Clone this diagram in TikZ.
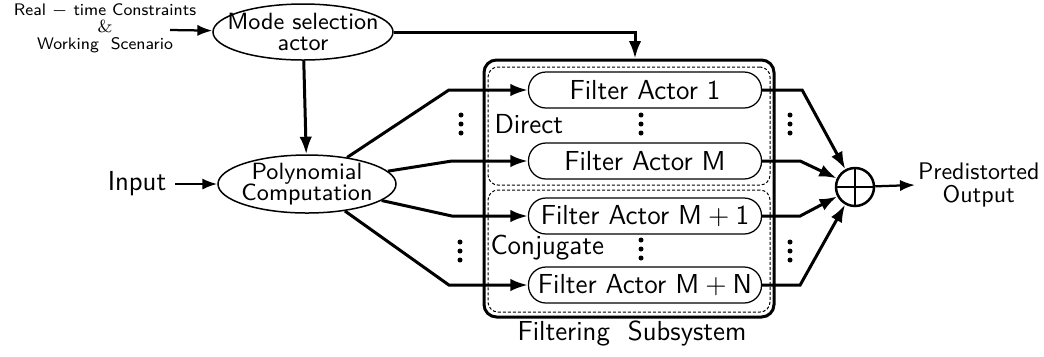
\documentclass[tikz,border=0pt]{standalone}
\usepackage{tikz}
\usepackage{xcolor}
\usepackage{amsmath}
\usetikzlibrary{arrows.meta,shapes.geometric}

% a column of three dots
\newcommand{\dotstack}[2]{\foreach \dy in {-9,0,9} {\fill (#1,#2+\dy) circle (1pt);}}
% close line spacing inside the ellipses
\newcommand{\tightfont}{\fontsize{9.4}{8.2}\selectfont\sffamily\lineskiplimit=-20pt\relax}

\begin{document}
\begin{tikzpicture}[x=0.4pt, y=-0.4pt,
    flow/.style={-{Latex[length=7pt,width=5pt]}, line width=1.2pt},
    thinflow/.style={-{Latex[length=6pt,width=4.5pt]}, line width=0.9pt},
    actor/.style={ellipse, draw, line width=0.6pt, inner sep=0pt},
    ellfont/.style={font=\tightfont, align=center, inner sep=0pt},
    lbl/.style={font=\fontsize{11}{13}\selectfont\sffamily},
    filter/.style={draw, line width=0.5pt, rounded corners=7pt, minimum width=93.2pt, minimum height=14.4pt, inner sep=0pt, font=\fontsize{11}{13}\selectfont\sffamily},
    group/.style={draw, line width=0.4pt, dash pattern=on 1.2pt off 0.8pt, rounded corners=4pt, minimum width=112.8pt}]

    \useasboundingbox (0,0) rectangle (1044,356);

    % Inputs
    \node[font=\fontsize{6.7}{6.8}\selectfont\sffamily, align=center] (rt) at (105,28) {Real $-$ time Constraints\\$\&$\\Working\ \ Scenario};
    \coordinate (rtout) at (170,30);
    \node[lbl] (input) at (137,184) {Input};

    % Actors
    \node[actor, minimum width=72pt, minimum height=22.4pt, label={[ellfont]center:Mode selection\\actor}] (mode) at (303,32) {};
    \node[actor, minimum width=71.2pt, minimum height=23.2pt, label={[ellfont]center:Polynomial\\Computation}] (poly) at (307,184) {};

    % Filtering subsystem
    \node[draw, line width=1.2pt, rounded corners=5pt, minimum width=116pt, minimum height=102.8pt] (fs) at (629,188.5) {};
    \node[group, minimum height=47.2pt] (direct) at (629,126) {};
    \node[group, minimum height=48.8pt] (conj) at (629,251) {};
    \node[lbl, anchor=west, inner sep=0pt] (directlbl) at (494,124) {Direct};
    \node[lbl, anchor=west, inner sep=0pt] (conjlbl) at (490,248) {Conjugate};
    \node[lbl] (fslbl) at (632,333) {Filtering\ \ Subsystem};

    \node[filter] (fa1) at (645,90) {Filter Actor 1};
    \node[filter] (fam) at (645,161) {Filter Actor $\mathsf{M}$};
    \node[filter] (fam1) at (645,216) {Filter Actor $\mathsf{M}+\mathsf{1}$};
    \node[filter] (famn) at (645,285) {Filter Actor $\mathsf{M}+\mathsf{N}$};

    \dotstack{461}{124}
    \dotstack{641}{124}
    \dotstack{790}{124}
    \dotstack{460}{251}
    \dotstack{641}{249}
    \dotstack{790}{251}

    % Summation and output
    \node[circle, draw, line width=1pt, minimum size=15.2pt, inner sep=0pt,
          path picture={\draw[line width=1pt] (path picture bounding box.north) -- (path picture bounding box.south)
                        (path picture bounding box.west) -- (path picture bounding box.east);}] (sum) at (855,187) {};
    \node[font=\fontsize{9.6}{9.4}\selectfont\sffamily, align=center, anchor=west, inner sep=1pt] (out) at (915,185) {Predistorted\\Output};

    % Edges
    \draw[thinflow] (rtout) -- (mode);
    \draw[flow] (mode.east) -| ([xshift=2.4pt]fs.north);
    \draw[flow] (mode) -- (poly);
    \draw[thinflow] (input) -- (poly);

    \draw[flow] (poly) -- ([xshift=-31.6pt]fa1.west) -- (fa1.west);
    \draw[flow] (poly) -- ([xshift=-30.4pt]fam.west) -- (fam.west);
    \draw[flow] (poly) -- ([xshift=-30.4pt]fam1.west) -- (fam1.west);
    \draw[flow] (poly) -- ([xshift=-31.6pt]famn.west) -- (famn.west);

    \draw[flow] (fa1.east) -- ++(16pt,0) -- (sum);
    \draw[flow] (fam.east) -- ++(15.2pt,0) -- (sum);
    \draw[flow] (fam1.east) -- ++(15.2pt,0) -- (sum);
    \draw[flow] (famn.east) -- ++(15.2pt,0) -- (sum);

    \draw[thinflow] (sum) -- (out.west);

\end{tikzpicture}
\end{document}
